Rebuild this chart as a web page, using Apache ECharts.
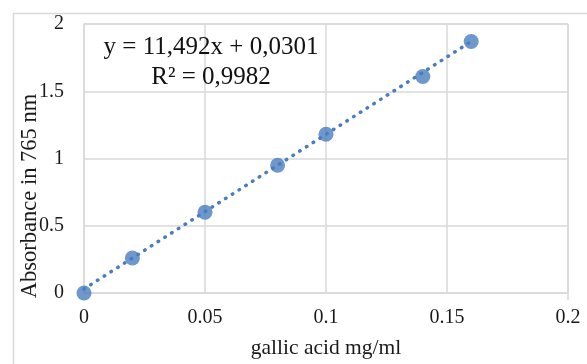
<!DOCTYPE html>
<html><head><meta charset="utf-8">
<script src="https://cdn.jsdelivr.net/npm/echarts@6/dist/echarts.min.js"></script>
<style>html,body{margin:0;padding:0;background:#fff}#c{width:587px;height:364px}</style>
</head><body><div id="c"></div>
<script>
const concentration = [0, 0.02, 0.05, 0.08, 0.1, 0.14, 0.16];
const absorbance = [0, 0.26, 0.6, 0.95, 1.18, 1.61, 1.87];
const trendX = [0, 0.16];
const trendY = [0.03, 1.87];
const xTicks = [0, 0.05, 0.1, 0.15, 0.2];
const yTicks = [0, 0.5, 1, 1.5, 2];
const equationLines = ['y = 11,492x + 0,0301', 'R² = 0,9982'];
const xTitle = 'gallic acid mg/ml';
const yTitle = 'Absorbance in 765 nm';

const font = '"Liberation Serif", "Times New Roman", serif';
const chart = echarts.init(document.getElementById('c'));
chart.setOption({
  animation: false,
  grid: {left: 84, right: 19, top: 24, bottom: 64},
  xAxis: {
    type: 'value', min: 0, max: 0.2, interval: 0.05,
    axisLine: {show: true, lineStyle: {color: '#d9d9d9', width: 1.5}},
    axisTick: {show: false},
    splitLine: {show: true, lineStyle: {color: '#d9d9d9', width: 1.5}},
    axisLabel: {margin: 15, fontFamily: font, fontSize: 20, color: '#1a1a1a',
      formatter: v => { const t = xTicks.find(k => Math.abs(k - v) < 1e-9); return t === undefined ? '' : String(t); }},
    name: xTitle, nameLocation: 'middle', nameGap: 44,
    nameTextStyle: {fontFamily: font, fontSize: 21.5, color: '#1a1a1a'}
  },
  yAxis: {
    type: 'value', min: 0, max: 2, interval: 0.5,
    axisLine: {show: true, lineStyle: {color: '#d9d9d9', width: 1.5}},
    axisTick: {show: false},
    splitLine: {show: true, lineStyle: {color: '#d9d9d9', width: 1.5}},
    axisLabel: {margin: 20, fontFamily: font, fontSize: 20, color: '#1a1a1a',
      formatter: v => { const t = yTicks.find(k => Math.abs(k - v) < 1e-9); return t === undefined ? '' : String(t); }}
  },
  graphic: [
    {type: 'rect', shape: {x: 13.5, y: 13.5, width: 600, height: 400}, style: {fill: 'none', stroke: '#d9d9d9', lineWidth: 1.5}, z: -1},
    {type: 'line', shape: {x1: 568, y1: 24, x2: 568, y2: 300}, style: {stroke: '#d9d9d9', lineWidth: 1.5}},
    {type: 'line', shape: {x1: 84, y1: 24, x2: 568, y2: 24}, style: {stroke: '#d9d9d9', lineWidth: 1.5}},
    {type: 'text', x: 211, y: 47, style: {text: equationLines[0], font: '25px ' + font, fill: '#111', textAlign: 'center', textVerticalAlign: 'middle'}, z: 10},
    {type: 'text', x: 211, y: 77, style: {text: equationLines[1], font: '25px ' + font, fill: '#111', textAlign: 'center', textVerticalAlign: 'middle'}, z: 10},
    {type: 'text', x: 30, y: 196, rotation: Math.PI / 2, style: {text: yTitle, font: '22.5px ' + font, fill: '#1a1a1a', textAlign: 'center', textVerticalAlign: 'middle'}, z: 10}
  ],
  series: [
    {type: 'line', data: trendX.map((x, i) => [x, trendY[i]]), symbol: 'none',
      lineStyle: {color: '#4a7dbf', width: 3.5, type: [0.5, 7.5], cap: 'round'}, z: 2},
    {type: 'scatter', data: concentration.map((x, i) => [x, absorbance[i]]), symbolSize: 15,
      itemStyle: {color: '#4a7dbf'}, z: 3}
  ]
});
</script></body></html>
